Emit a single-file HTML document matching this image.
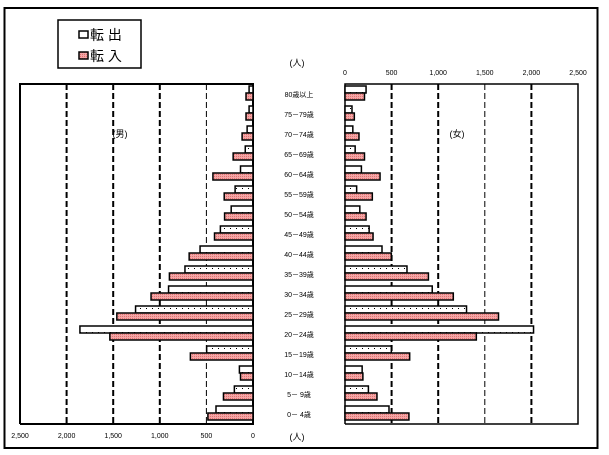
<!DOCTYPE html>
<html><head><meta charset="utf-8"><style>
body{margin:0;background:#fff}
svg{display:block;font-family:"Liberation Sans","Noto Sans CJK JP",sans-serif}
</style></head><body>
<svg id="c" width="609" height="455" viewBox="0 0 609 455">
<defs>
<pattern id="pk" width="2" height="2" patternUnits="userSpaceOnUse"><rect width="2" height="2" fill="#f4a6a6"/><rect width="1" height="1" fill="#e07070"/></pattern>
<pattern id="wd" width="6" height="8" patternUnits="userSpaceOnUse"><rect width="6" height="8" fill="#fff"/><rect x="2" y="4" width="1" height="1" fill="#000"/></pattern>
</defs>
<rect x="4.5" y="8" width="593" height="440" fill="none" stroke="#000" stroke-width="2"/>
<g>
<rect x="58" y="20" width="83" height="48" fill="#fff" stroke="#000" stroke-width="1.5"/>
<rect x="79" y="31" width="9" height="7" fill="#fff" stroke="#000" stroke-width="1.5"/>
<text x="90" y="40" font-size="14">転 出</text>
<rect x="79" y="52" width="9" height="7" fill="url(#pk)" stroke="#000" stroke-width="1.5"/>
<text x="90" y="61" font-size="14">転 入</text>
</g>
<text x="297" y="66" font-size="9" text-anchor="middle">(人)</text>
<text x="297" y="440" font-size="9" text-anchor="middle">(人)</text>
<text x="120" y="137" font-size="9" text-anchor="middle">(男)</text>
<text x="457" y="137" font-size="9" text-anchor="middle">(女)</text>
<g id="grid"></g><g id="bars"></g><g id="labels"></g>
</svg>
<script>
const ages=["80歳以上","75－79歳","70－74歳","65－69歳","60－64歳","55－59歳","50－54歳","45－49歳","40－44歳","35－39歳","30－34歳","25－29歳","20－24歳","15－19歳","10－14歳","5－ 9歳","0－ 4歳"];
const maleOut=[42,42,63,83,134,192,234,350,568,730,906,1260,1857,497,146,200,397];
const maleIn=[75,75,117,213,430,309,305,413,685,897,1094,1461,1536,672,134,317,484];
const femaleOut=[226,75,84,109,176,125,159,259,397,665,936,1304,2023,497,184,251,472];
const femaleIn=[209,100,150,209,376,293,226,301,497,895,1162,1647,1409,694,192,343,686];
const ticks=[0,500,1000,1500,2000,2500];
const tickLabels=["0","500","1,000","1,500","2,000","2,500"];
const NS="http://www.w3.org/2000/svg";
const L0=253,R0=345,W=233,MAX=2500,TOP=84,BOT=424;
const sx=v=>v/MAX*W;
const gy=i=>93+i*20;
function mk(t,a,p){const e=document.createElementNS(NS,t);for(const k in a)e.setAttribute(k,a[k]);p.appendChild(e);return e;}
const g=document.getElementById('grid'),b=document.getElementById('bars'),lb=document.getElementById('labels');
// panels
const lp=mk('path',{d:`M${L0-W} ${BOT}V${TOP}H${L0}V${BOT}H${L0-W}`,fill:'none',stroke:'#000','stroke-width':2},g);


const rp=mk('path',{d:`M${R0} ${BOT}V${TOP}H${R0+W}V${BOT}H${R0}`,fill:'none',stroke:'#000','stroke-width':1.5},g);


ticks.forEach((t,i)=>{
 if(t>0&&t<MAX){
  const heavyL=t!==500, heavyR=t!==1500;
  const a=mk('line',{x1:L0-sx(t),x2:L0-sx(t),y1:TOP,y2:BOT,stroke:'#000','stroke-width':heavyL?2:1,'stroke-dasharray':'6 3'},g);
  
  
  const c=mk('line',{x1:R0+sx(t),x2:R0+sx(t),y1:TOP,y2:BOT,stroke:'#000','stroke-width':heavyR?2:1,'stroke-dasharray':'6 3'},g);
  
  
 }
 const tl=mk('text',{x:R0+sx(t),y:75,'font-size':7,'text-anchor':'middle'},lb);tl.textContent=tickLabels[i];
 
 
 const bl=mk('text',{x:L0-sx(t),y:438,'font-size':7,'text-anchor':'middle'},lb);bl.textContent=tickLabels[i];
 
 
});
ages.forEach((a,i)=>{
 const y=gy(i);
 const bars=[[maleOut[i],-1,y-7,'url(#wd)','male-out-bar'],[maleIn[i],-1,y,'url(#pk)','male-in-bar'],[femaleOut[i],1,y-7,'url(#wd)','female-out-bar'],[femaleIn[i],1,y,'url(#pk)','female-in-bar']];
 bars.forEach(([v,d,yy,f,n])=>{
  const w=sx(v),x=d<0?L0-w:R0;
  const r=mk('rect',{x:x,y:yy,width:w,height:7,fill:f,stroke:'#000','stroke-width':1.5},b);
  
  
 });
 const t=mk('text',{x:299,y:y+4,'font-size':7,'text-anchor':'middle'},lb);t.textContent=a;
 
 
});
</script>
</body></html>
